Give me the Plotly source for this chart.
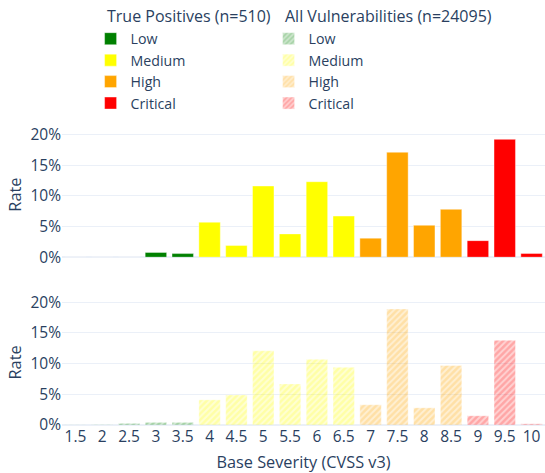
import plotly.graph_objects as go
from plotly.subplots import make_subplots

severity_names = ["Low", "Medium", "High", "Critical"]
severity_colors = ["green", "yellow", "orange", "red"]
group_titles = ["True Positives (n=510)", "All Vulnerabilities (n=24095)"]

low_x = [1.5, 2, 2.5, 3, 3.5]
medium_x = [4, 4.5, 5, 5.5, 6, 6.5]
high_x = [7, 7.5, 8, 8.5]
critical_x = [9, 9.5, 10]

# True positives (n=510), rates
tp_low = [0.0, 0.0, 0.0, 0.0078, 0.0059]
tp_medium = [0.057, 0.019, 0.116, 0.038, 0.123, 0.067]
tp_high = [0.031, 0.171, 0.052, 0.078]
tp_critical = [0.027, 0.192, 0.006]

# All vulnerabilities (n=24095), rates
all_low = [0.0002, 0.0005, 0.0027, 0.0043, 0.0043]
all_medium = [0.041, 0.049, 0.121, 0.067, 0.107, 0.094]
all_high = [0.033, 0.189, 0.028, 0.097]
all_critical = [0.015, 0.138, 0.002]

tick_vals = [1.5, 2, 2.5, 3, 3.5, 4, 4.5, 5, 5.5, 6, 6.5, 7, 7.5, 8, 8.5, 9, 9.5, 10]
tick_text = ["1.5", "2", "2.5", "3", "3.5", "4", "4.5", "5", "5.5", "6", "6.5",
             "7", "7.5", "8", "8.5", "9", "9.5", "10"]

xs = [low_x, medium_x, high_x, critical_x]
tps = [tp_low, tp_medium, tp_high, tp_critical]
alls = [all_low, all_medium, all_high, all_critical]

fig = make_subplots(rows=2, cols=1, shared_xaxes=True, vertical_spacing=0.1454)

for name, color, x, y in zip(severity_names, severity_colors, xs, tps):
    fig.add_trace(go.Bar(
        x=x, y=y, name=name, marker_color=color, legend="legend",
        marker_line=dict(color="white", width=0.4),
    ), row=1, col=1)

for name, color, x, y in zip(severity_names, severity_colors, xs, alls):
    fig.add_trace(go.Bar(
        x=x, y=y, name=name, marker_color=color, opacity=0.35,
        marker_pattern=dict(shape="/", size=4.4, solidity=0.45,
                            fillmode="overlay", fgcolor="white"),
        marker_line=dict(color="white", width=0.4),
        legend="legend2",
    ), row=2, col=1)

legend_common = dict(orientation="v", yanchor="top", y=1.3722, xanchor="left",
                     font=dict(size=14.2), bgcolor="rgba(0,0,0,0)")

fig.update_layout(
    template="plotly_white",
    width=545, height=473,
    barmode="relative",
    font=dict(family="Open Sans"),
    margin=dict(l=62, r=0, t=132, b=46),
    legend=dict(x=0.0592, **legend_common),
    legend2=dict(x=0.4277, **legend_common),
)
for gx, title in zip([0.089, 0.4576], group_titles):
    fig.add_annotation(text=title, xref="paper", yref="paper", x=gx, y=1.3966,
                       xanchor="left", yanchor="middle", showarrow=False,
                       font=dict(size=16, color="#2a3f5f"))

fig.update_yaxes(title_text="Rate", title_font=dict(size=16.3), tickfont=dict(size=15.5),
                 title_standoff=4,
                 tickformat=".0%", dtick=0.05, range=[0, 0.204],
                 gridwidth=0.7)
fig.update_xaxes(tickvals=tick_vals, ticktext=tick_text, range=[1.25, 10.25],
                 tickfont=dict(size=15.5))
fig.update_xaxes(title_text="Base Severity (CVSS v3)", title_font=dict(size=16.3),
                 row=2, col=1)

fig.write_html("out.html", config={"displayModeBar": False},
               post_script="document.body.style.margin='0';")
